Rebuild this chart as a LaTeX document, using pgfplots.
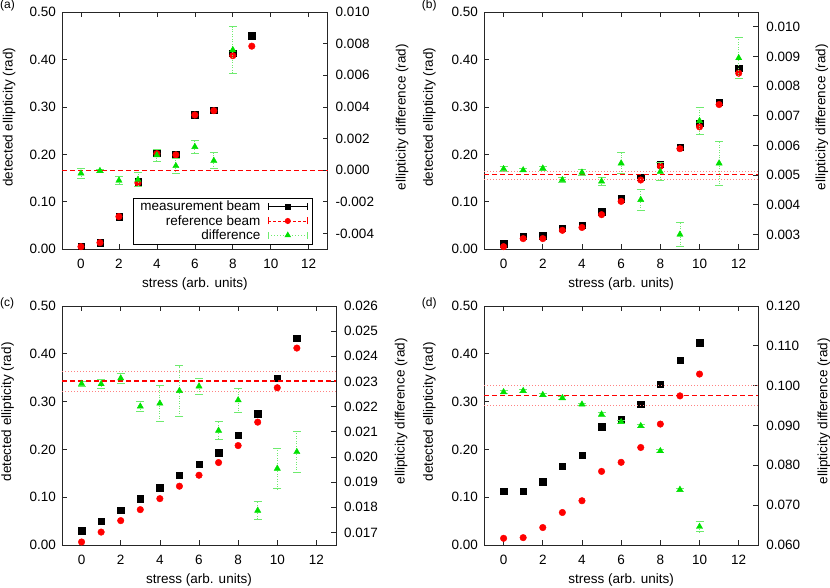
\documentclass[border=0pt]{standalone}
\usepackage{fontspec}
\setmainfont{Liberation Sans}
\usepackage{pgfplots}
\pgfplotsset{compat=1.18}
\definecolor{dgreen}{RGB}{0,225,0}
\definecolor{egreen}{RGB}{110,235,110}
\definecolor{pinkl}{RGB}{255,130,130}
\definecolor{mred}{RGB}{255,0,0}
\newcommand{\fs}{\fontsize{13.5}{15}\selectfont}
\pgfplotsset{
  base/.style={scale only axis, xmin=-1, xmax=13, clip=false,
    tick align=inside, major tick length=5pt,
    axis line style={line width=0.8pt, black!85},
    every tick/.append style={line width=0.7pt, black!85},
    tick label style={font=\fs}, label style={font=\fs},
    /pgf/number format/assume math mode=true, scaled y ticks=false},
  leftax/.style={base, ymin=0, ymax=0.5, ytick={0,0.1,0.2,0.3,0.4,0.5},
    xtick={0,2,4,6,8,10,12}, xtick pos=both, ytick pos=left,
    yticklabel style={/pgf/number format/fixed, /pgf/number format/fixed zerofill, /pgf/number format/precision=2, xshift=-2.5pt},
    xticklabel style={yshift=-6.5pt},
    xlabel={stress (arb. units)},
    xlabel style={at={(axis description cs:0.5,0)}, anchor=base, yshift=-38pt},
    ylabel={detected ellipticity (rad)},
    ylabel style={at={(axis description cs:-0.186,0.557)}, anchor=base}},
  rightax/.style={base, axis x line=none, axis y line*=right, ytick pos=right,
    yticklabel style={/pgf/number format/fixed, /pgf/number format/fixed zerofill, /pgf/number format/precision=3, xshift=4.5pt},
    ylabel={ellipticity difference (rad)}},
  meas/.style={only marks, mark=square*, mark size=3.2pt, black},
  refb/.style={only marks, mark=*, mark size=3.3pt, mred},
  diff/.style={only marks, mark=triangle*, mark size=3.6pt, color=dgreen,
    error bars/y dir=both, error bars/y explicit,
    error bars/error bar style={egreen, dash pattern=on 1pt off 1.5pt, line width=0.8pt},
    error bars/error mark options={egreen, rotate=90, mark size=4pt, line width=0.8pt}},
  meanl/.style={color=mred, draw=mred, line width=1.1pt, dash pattern=on 5pt off 3pt, mark=none, forget plot},
  sdl/.style={color=pinkl, draw=pinkl, line width=1pt, dash pattern=on 1pt off 2pt, mark=none, forget plot},
  errleg/.style={legend image code/.code={
      \draw[mark repeat=2, mark phase=2, ##1] plot coordinates {(0pt,0pt) (19.5pt,0pt) (39pt,0pt)};
      \draw[##1, mark=none, solid] (0pt,-3.5pt) -- (0pt,3.5pt) (39pt,-3.5pt) -- (39pt,3.5pt);
  }},
}
\begin{document}
\begin{tikzpicture}
\useasboundingbox (0,0) rectangle (830pt,587pt);
% ---------------- (a)
\begin{axis}[leftax, at={(62pt,337.7pt)}, anchor=south west, width=265.7pt, height=237.3pt]
\addplot[meas] table {
0 0.006
1 0.014
2 0.069
3 0.1425
4 0.203
5 0.200
6 0.284
7 0.293
8 0.413
9 0.450
};
\addplot[refb] table {
0 0.0056
1 0.014
2 0.069
3 0.140
4 0.2015
5 0.199
6 0.283
7 0.292
8 0.408
9 0.428
};
\end{axis}
\begin{axis}[rightax, at={(62pt,337.7pt)}, anchor=south west, width=265.7pt, height=237.3pt,
  ymin=-0.005, ymax=0.010, ytick={-0.004,-0.002,0,0.002,0.004,0.006,0.008,0.010},
  ylabel style={at={(axis description cs:1.2936,0.557)}, anchor=base},
  legend style={font=\fs, draw=black, line width=0.8pt, at={(0.945,0.021)}, anchor=south east,
    inner xsep=5pt, inner ysep=1.5pt, row sep=0pt, nodes={inner sep=1.5pt},
    /tikz/every odd column/.append style={column sep=6pt}},
  legend cell align=right, legend plot pos=right]
\addlegendimage{black, solid, line width=0.8pt, mark=square*, mark size=2.4pt, errleg}
\addlegendimage{mred, line width=0.8pt, dash pattern=on 3pt off 2pt, mark=*, mark size=2.6pt, mark options={solid}, errleg}
\addlegendimage{egreen, line width=0.8pt, dash pattern=on 1pt off 2pt, mark=triangle*, mark size=3pt, mark options={solid, draw=dgreen, fill=dgreen}, errleg}
\addplot[forget plot, diff] table[x index=0, y index=1, y error index=2] {
0 -0.0002 0.0003
1 -0.00004 0.0001
2 -0.00065 0.00026
3 -0.0006 0.00045
4 0.00095 0.00037
5 0.00027 0.00045
6 0.00148 0.00043
7 0.0006 0.0005
8 0.0076 0.00148
};
\addplot[meanl] coordinates {(-1,0) (13,0)};
\legend{measurement beam, reference beam, difference}
\end{axis}
% ---------------- (b)
\begin{axis}[leftax, at={(484pt,337.7pt)}, anchor=south west, width=274.3pt, height=237.3pt]
\addplot[meas] table {
0 0.012
1 0.028
2 0.029
3 0.044
4 0.051
5 0.079
6 0.107
7 0.152
8 0.179
9 0.215
10 0.266
11 0.310
12 0.381
};
\addplot[refb] table {
0 0.0056
1 0.0225
2 0.0225
3 0.040
4 0.046
5 0.073
6 0.101
7 0.146
8 0.175
9 0.212
10 0.258
11 0.305
12 0.371
};
\end{axis}
\begin{axis}[rightax, at={(484pt,337.7pt)}, anchor=south west, width=274.3pt, height=237.3pt,
  ymin=0.0025, ymax=0.0105, ytick={0.003,0.004,0.005,0.006,0.007,0.008,0.009,0.010},
  ylabel style={at={(axis description cs:1.2443,0.557)}, anchor=base}]
\addplot[diff] table[x index=0, y index=1, y error index=2] {
0 0.00521 0.00008
1 0.00517 0.00005
2 0.00523 0.00007
3 0.00484 0.0001
4 0.00509 0.0001
5 0.00479 0.00015
6 0.0054 0.00035
7 0.00417 0.00035
8 0.00512 0.0003
9 0.0030 0.0004
10 0.00683 0.00047
11 0.0054 0.00075
12 0.00895 0.0007
};
\addplot[sdl] coordinates {(-1,0.00513) (13,0.00513)};
\addplot[sdl] coordinates {(-1,0.00486) (13,0.00486)};
\addplot[meanl] coordinates {(-1,0.00502) (13,0.00502)};
\end{axis}
% ---------------- (c)
\begin{axis}[leftax, at={(62pt,42pt)}, anchor=south west, width=274pt, height=239pt]
\addplot[meas] table {
0 0.030
1 0.050
2 0.073
3 0.097
4 0.120
5 0.146
6 0.169
7 0.1935
8 0.230
9 0.275
10 0.3485
11 0.433
};
\addplot[refb] table {
0 0.0063
1 0.027
2 0.051
3 0.074
4 0.097
5 0.123
6 0.146
7 0.1725
8 0.208
9 0.257
10 0.329
11 0.412
};
\end{axis}
\begin{axis}[rightax, at={(62pt,42pt)}, anchor=south west, width=274pt, height=239pt,
  ymin=0.0165, ymax=0.026, ytick={0.017,0.018,0.019,0.020,0.021,0.022,0.023,0.024,0.025,0.026},
  ylabel style={at={(axis description cs:1.25,0.56)}, anchor=base}]
\addplot[diff] table[x index=0, y index=1, y error index=2] {
0 0.02291 0.0001
1 0.0229 0.00017
2 0.02313 0.0002
3 0.02201 0.0002
4 0.02213 0.0007
5 0.02263 0.001
6 0.02281 0.00033
7 0.02105 0.00035
8 0.02226 0.00048
9 0.01787 0.00036
10 0.01954 0.0008
11 0.0202 0.00082
};
\addplot[sdl] coordinates {(-1,0.0234) (13,0.0234)};
\addplot[sdl] coordinates {(-1,0.0226) (13,0.0226)};
\addplot[meanl] coordinates {(-1,0.02302) (13,0.02302)};
\end{axis}
% ---------------- (d)
\begin{axis}[leftax, at={(484pt,42pt)}, anchor=south west, width=274.3pt, height=239pt]
\addplot[meas] table {
0 0.112
1 0.113
2 0.1325
3 0.165
4 0.188
5 0.2475
6 0.2637
7 0.2945
8 0.3366
9 0.3864
10 0.4229
};
\addplot[refb] table {
0 0.014
1 0.0154
2 0.0365
3 0.068
4 0.0926
5 0.154
6 0.173
7 0.204
8 0.253
9 0.312
10 0.3576
};
\end{axis}
\begin{axis}[rightax, at={(484pt,42pt)}, anchor=south west, width=274.3pt, height=239pt,
  ymin=0.06, ymax=0.12, ytick={0.06,0.07,0.08,0.09,0.10,0.11,0.12},
  ylabel style={at={(axis description cs:1.2516,0.56)}, anchor=base}]
\addplot[diff] table[x index=0, y index=1, y error index=2] {
0 0.0984 0.0003
1 0.0987 0.0003
2 0.0977 0.0003
3 0.0969 0.0003
4 0.0953 0.0003
5 0.0928 0.0004
6 0.0909 0.0004
7 0.0899 0.0003
8 0.0836 0.0003
9 0.0739 0.0004
10 0.0646 0.0013
};
\addplot[sdl] coordinates {(-1,0.1001) (13,0.1001)};
\addplot[sdl] coordinates {(-1,0.0950) (13,0.0950)};
\addplot[meanl] coordinates {(-1,0.09755) (13,0.09755)};
\end{axis}
% panel labels
\node[anchor=north west, inner sep=0pt, font=\fontsize{12}{12}\selectfont] at (0pt,587pt) {(a)};
\node[anchor=north west, inner sep=0pt, font=\fontsize{12}{12}\selectfont] at (421.7pt,587pt) {(b)};
\node[anchor=north west, inner sep=0pt, font=\fontsize{12}{12}\selectfont] at (0pt,289pt) {(c)};
\node[anchor=north west, inner sep=0pt, font=\fontsize{12}{12}\selectfont] at (421.7pt,289pt) {(d)};
\end{tikzpicture}
\end{document}
